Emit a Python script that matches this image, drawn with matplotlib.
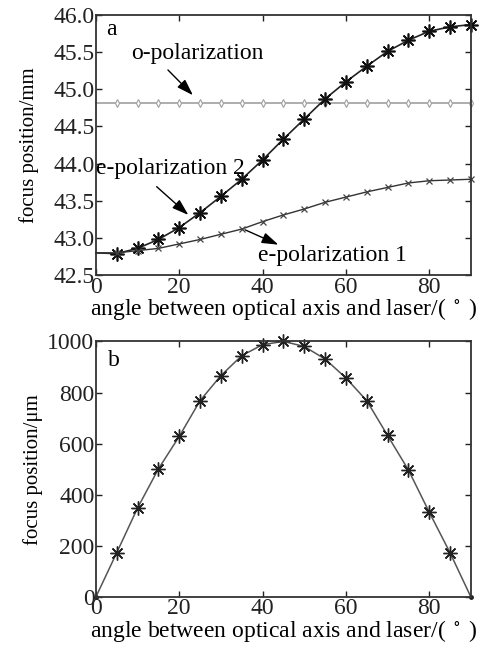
import numpy as np
import matplotlib
matplotlib.use("Agg")
import matplotlib.pyplot as plt

plt.rcParams['font.family'] = ['Liberation Serif', 'DejaVu Serif']
plt.rcParams['mathtext.fontset'] = 'stix'

# angles in degrees
angle = [0, 5, 10, 15, 20, 25, 30, 35, 40, 45, 50, 55, 60, 65, 70, 75, 80, 85, 90]

# panel a: focus position / mm
o_pol = [44.81] * len(angle)
e_pol2 = [42.80, 42.79, 42.86, 42.98, 43.14, 43.34, 43.56, 43.79, 44.05, 44.33,
          44.60, 44.87, 45.10, 45.31, 45.51, 45.66, 45.78, 45.84, 45.87]
e_pol1 = [42.80, 42.80, 42.83, 42.86, 42.92, 42.98, 43.05, 43.12, 43.22, 43.31,
          43.39, 43.48, 43.55, 43.62, 43.68, 43.74, 43.77, 43.78, 43.79]

# panel b: focus separation / um
sep = [0, 173, 348, 501, 628, 768, 866, 944, 987, 1000,
       980, 931, 857, 768, 632, 497, 332, 173, 0]

fs = 17      # horizontal text
fsy = 15     # rotated y label
star = (8, 2, 0)

def styleAxes(ax):
    ax.tick_params(direction='in', top=True, right=True, length=4, width=1,
                   labelsize=fs, pad=1, colors='#222222')
    for s in ax.spines.values():
        s.set_linewidth(1.3)
        s.set_color('#333333')
    ax.set_xlim(0, 90)
    ax.set_xticks([0, 20, 40, 60, 80])
    ax.set_xlabel('angle between optical axis and laser/( $^\\circ$ )', fontsize=fs, labelpad=-1)

fig = plt.figure(figsize=(4.84, 6.49), dpi=100)
ax1 = fig.add_axes([0.198, 0.576, 0.775, 0.401])
ax2 = fig.add_axes([0.198, 0.080, 0.775, 0.394])

# ---- panel a ----
ax1.plot(angle, o_pol, color='#a0a0a0', lw=1.2, marker='d', ms=4, markevery=slice(1, None),
         mfc='white', mec='#a0a0a0', mew=0.8, clip_on=False)
ax1.plot(angle, e_pol2, color='#222222', lw=1.2, marker=star, ms=10, markevery=slice(1, None),
         mec='#111111', mew=1.2, clip_on=False)
ax1.plot(angle, e_pol1, color='#333333', lw=1.0, marker='x', ms=5, markevery=slice(1, None),
         mec='#444444', mew=0.9, clip_on=False)
styleAxes(ax1)
ax1.set_ylim(42.5, 46.0)
ax1.set_yticks(np.arange(42.5, 46.01, 0.5))
ax1.set_yticklabels(['%.1f' % v for v in np.arange(42.5, 46.01, 0.5)])
ax1.set_ylabel('focus position/mm', fontsize=fsy, labelpad=10)

ax1.text(2.5, 45.8, 'a', fontsize=fs, va='center')
arrow = dict(arrowstyle='-|>,head_length=1.0,head_width=0.33', color='black', lw=1.0,
             shrinkA=0, shrinkB=0)
ax1.text(8.5, 45.48, 'o-polarization', fontsize=fs, va='center')
ax1.annotate('', xy=(23.3, 44.92), xytext=(17.3, 45.26), arrowprops=arrow)
ax1.text(0.0, 43.94, 'e-polarization 2', fontsize=fs, va='center')
ax1.annotate('', xy=(22.2, 43.31), xytext=(14.6, 43.69), arrowprops=arrow)
ax1.text(39.0, 42.76, 'e-polarization 1', fontsize=fs, va='center')
ax1.annotate('', xy=(43.8, 42.91), xytext=(35.8, 43.11), arrowprops=arrow)

# ---- panel b ----
ax2.plot(angle, sep, color='#555555', lw=1.1, marker=star, ms=10, markevery=slice(1, -1),
         mec='#222222', mew=1.0, clip_on=False)
ax2.plot([angle[0], angle[-1]], [sep[0], sep[-1]], ls='none', marker='o', ms=2.5,
         color='#222222', clip_on=False)
styleAxes(ax2)
ax2.set_ylim(0, 1000)
ax2.set_yticks([0, 200, 400, 600, 800, 1000])
ax2.set_ylabel('focus position/\u03bcm', fontsize=fsy, labelpad=3)
ax2.text(3.0, 925, 'b', fontsize=fs, va='center')

fig.savefig('out.png', dpi=100)
